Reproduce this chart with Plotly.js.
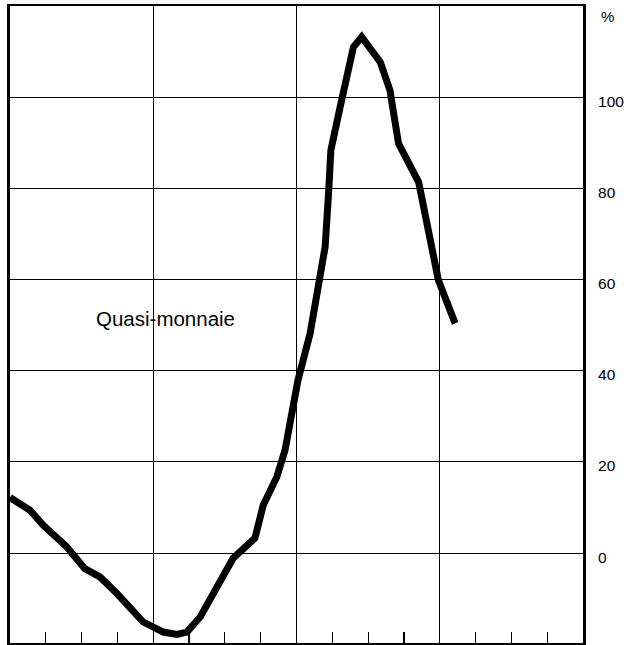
<!DOCTYPE html>
<html>
<head>
<meta charset="utf-8">
<script src="https://cdn.plot.ly/plotly-3.0.1.min.js"></script>
<style>html,body{margin:0;padding:0;background:#fff;}#chart{width:636px;height:645px;}</style>
</head>
<body>
<div id="chart"></div>
<script>
// x in quarters from the left edge, y in percent
const quarters = [0, 0.56, 0.93, 1.58, 2.09, 2.51, 2.98, 3.72, 4.28, 4.66, 4.94, 5.31, 6.23, 6.84, 7.07, 7.45, 7.68, 8.04, 8.38, 8.66, 8.80, 8.90, 8.96, 9.22, 9.59, 9.82, 10.34, 10.61, 10.85, 11.41, 11.96, 12.43];
const quasiMonnaie = [12.2, 9.4, 6.1, 1.4, -3.4, -5.2, -8.8, -15.1, -17.3, -17.8, -17.3, -14.0, -1.1, 3.3, 10.5, 16.7, 22.6, 37.9, 48.2, 59.9, 67.2, 79.6, 88.4, 97.9, 111.0, 113.2, 107.7, 101.5, 89.8, 81.4, 59.9, 50.4];
const yTicks = [0, 20, 40, 60, 80, 100];
const yTickText = ['0', '20', '40', '60', '80', '100'];
const seriesLabel = 'Quasi-monnaie';
const unitLabel = '%';

const trace = {
  x: quarters, y: quasiMonnaie, type: 'scatter', mode: 'lines',
  line: {color: '#000', width: 7, shape: 'linear'},
  hoverinfo: 'skip'
};

const layout = {
  width: 636, height: 645,
  margin: {l: 10, r: 53, t: 6, b: 2},
  paper_bgcolor: '#fff', plot_bgcolor: '#fff',
  showlegend: false,
  font: {family: 'Liberation Sans, Arial, sans-serif', color: '#000', size: 15},
  xaxis: {
    range: [0, 16], tickmode: 'linear', tick0: 0, dtick: 4,
    showgrid: true, gridcolor: '#000', gridwidth: 1,
    showticklabels: false, ticks: '',
    zeroline: false,
    showline: true, mirror: true, linecolor: '#000', linewidth: 2.5,
    minor: {tickmode: 'linear', tick0: 0, dtick: 1, ticks: 'inside', ticklen: 11, tickwidth: 1.2, tickcolor: '#000', showgrid: false}
  },
  yaxis: {
    side: 'right', range: [-19.7, 120],
    tickvals: yTicks, ticktext: yTickText,
    showgrid: true, gridcolor: '#000', gridwidth: 1,
    zeroline: false, ticks: '',
    ticklabelstandoff: 9,
    ticklabelshift: 4,
    showline: true, mirror: true, linecolor: '#000', linewidth: 3,
    tickfont: {size: 15.5, family: 'Liberation Sans, Arial, sans-serif', color: '#000'}
  },
  annotations: [
    {text: unitLabel, xref: 'paper', yref: 'paper', x: 1.028, y: 1.0, xanchor: 'left', yanchor: 'top', showarrow: false, font: {size: 15}},
    {text: seriesLabel, xref: 'x', yref: 'y', x: 4.33, y: 51.5, xanchor: 'center', yanchor: 'middle', showarrow: false, font: {size: 20.5}}
  ]
};

Plotly.newPlot('chart', [trace], layout, {displayModeBar: false, staticPlot: true});
</script>
</body>
</html>
